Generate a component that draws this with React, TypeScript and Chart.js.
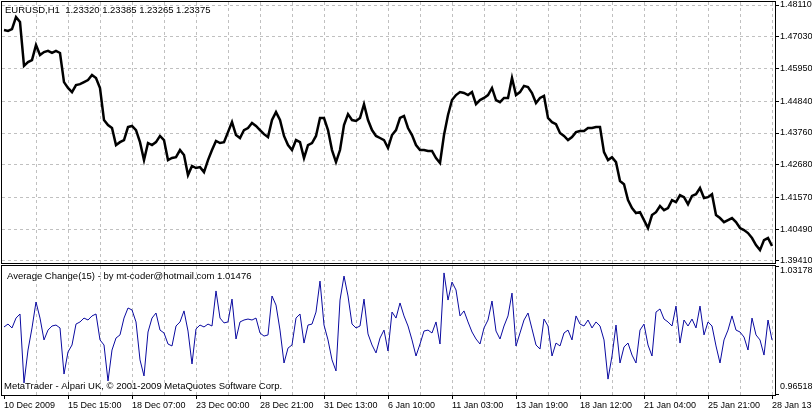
import React, { useEffect, useRef } from 'react';
import { Chart, registerables } from 'chart.js';

Chart.register(...registerables);

// ---- data ----
const timeLabels = [
  '10 Dec 2009', '15 Dec 15:00', '18 Dec 07:00', '23 Dec 00:00', '28 Dec 21:00',
  '31 Dec 13:00', '6 Jan 10:00', '11 Jan 03:00', '13 Jan 19:00', '18 Jan 12:00',
  '21 Jan 04:00', '25 Jan 21:00', '28 Jan 13:00',
];

const priceTicks = [1.4811, 1.4703, 1.4595, 1.4484, 1.4376, 1.4268, 1.4157, 1.4049, 1.3941];

const indicatorMax = 1.03178;
const indicatorMin = 0.96518;

const headerText = 'EURUSD,H1  1.23320 1.23385 1.23265 1.23375';
const indicatorText = 'Average Change(15) - by mt-coder@hotmail.com 1.01476';
const copyrightText = 'MetaTrader - Alpari UK, \u00A9 2001-2009 MetaQuotes Software Corp.';

// EURUSD H1 price, one reading every 4 bars
const eurusdPrice = [
  1.4726, 1.4723, 1.4729, 1.4770, 1.4753, 1.4604, 1.4617, 1.4624, 1.4675, 1.4641, 1.4651, 1.4655, 1.4648, 1.4655, 1.4648, 1.4549,
  1.4529, 1.4515, 1.4539, 1.4542, 1.4549, 1.4556, 1.4573, 1.4563, 1.4529, 1.4420, 1.4403, 1.4393, 1.4335, 1.4345, 1.4352, 1.4396,
  1.4400, 1.4386, 1.4345, 1.4284, 1.4342, 1.4335, 1.4345, 1.4366, 1.4352, 1.4284, 1.4291, 1.4294, 1.4318, 1.4301, 1.4233, 1.4264,
  1.4257, 1.4260, 1.4243, 1.4284, 1.4318, 1.4349, 1.4342, 1.4345, 1.4379, 1.4413, 1.4369, 1.4359, 1.4386, 1.4393, 1.4410, 1.4400,
  1.4386, 1.4372, 1.4362, 1.4420, 1.4447, 1.4420, 1.4366, 1.4335, 1.4318, 1.4352, 1.4345, 1.4291, 1.4335, 1.4342, 1.4366, 1.4427,
  1.4427, 1.4386, 1.4318, 1.4277, 1.4318, 1.4403, 1.4440, 1.4420, 1.4417, 1.4427, 1.4474, 1.4420, 1.4386, 1.4366, 1.4359, 1.4352,
  1.4325, 1.4369, 1.4386, 1.4427, 1.4434, 1.4393, 1.4369, 1.4335, 1.4318, 1.4318, 1.4315, 1.4315, 1.4291, 1.4274, 1.4369, 1.4437,
  1.4488, 1.4505, 1.4515, 1.4512, 1.4505, 1.4515, 1.4474, 1.4488, 1.4495, 1.4505, 1.4529, 1.4488, 1.4481, 1.4495, 1.4495, 1.4563,
  1.4505, 1.4515, 1.4536, 1.4532, 1.4512, 1.4478, 1.4495, 1.4502, 1.4427, 1.4413, 1.4406, 1.4376, 1.4366, 1.4352, 1.4362, 1.4379,
  1.4383, 1.4383, 1.4393, 1.4393, 1.4396, 1.4396, 1.4311, 1.4284, 1.4294, 1.4277, 1.4213, 1.4202, 1.4148, 1.4121, 1.4104, 1.4107,
  1.4080, 1.4053, 1.4097, 1.4107, 1.4128, 1.4114, 1.4121, 1.4148, 1.4141, 1.4165, 1.4158, 1.4134, 1.4162, 1.4168, 1.4189, 1.4155,
  1.4158, 1.4168, 1.4097, 1.4087, 1.4073, 1.4080, 1.4087, 1.4073, 1.4053, 1.4046, 1.4036, 1.4019, 1.3995, 1.3978, 1.4012, 1.4019,
  1.3992,
];

// Average Change(15), one reading every 4 bars
const averageChange = [
  1.0003, 1.0018, 0.9998, 1.0049, 1.0070, 0.9714, 0.9884, 0.9998, 1.0132, 1.0049, 0.9936, 0.9987, 1.0008, 1.0013, 0.9998, 0.9760,
  0.9874, 0.9910, 1.0018, 1.0029, 1.0049, 1.0039, 1.0060, 1.0070, 0.9936, 0.9910, 0.9724, 0.9884, 0.9946, 0.9962, 1.0049, 1.0101,
  1.0091, 1.0029, 0.9833, 0.9750, 0.9977, 1.0049, 1.0075, 0.9987, 0.9972, 0.9915, 0.9905, 1.0008, 1.0029, 1.0086, 0.9982, 0.9812,
  0.9993, 1.0013, 1.0003, 1.0018, 1.0008, 1.0189, 1.0049, 1.0024, 1.0029, 1.0147, 0.9941, 1.0029, 1.0039, 1.0044, 1.0039, 1.0049,
  0.9972, 0.9956, 0.9962, 1.0163, 1.0116, 0.9987, 0.9817, 0.9894, 0.9910, 1.0049, 1.0070, 0.9920, 1.0013, 1.0018, 1.0080, 1.0240,
  1.0013, 0.9936, 0.9833, 0.9776, 1.0142, 1.0266, 1.0163, 1.0018, 0.9998, 1.0008, 1.0147, 0.9967, 0.9910, 0.9869, 0.9946, 0.9987,
  0.9879, 1.0080, 1.0049, 1.0127, 1.0060, 1.0008, 0.9936, 0.9853, 0.9915, 0.9982, 0.9987, 0.9972, 1.0029, 0.9915, 1.0282, 1.0142,
  1.0235, 1.0194, 1.0060, 1.0086, 1.0029, 0.9977, 0.9941, 0.9915, 0.9998, 1.0039, 1.0137, 0.9982, 0.9941, 1.0008, 1.0060, 1.0178,
  0.9905, 0.9972, 1.0039, 1.0075, 0.9993, 0.9910, 0.9889, 1.0044, 1.0008, 0.9853, 0.9920, 0.9905, 0.9972, 0.9987, 0.9936, 1.0060,
  1.0018, 1.0008, 1.0039, 0.9998, 1.0029, 1.0008, 0.9936, 0.9734, 0.9853, 1.0013, 0.9817, 0.9900, 0.9920, 0.9858, 0.9817, 0.9987,
  1.0018, 0.9910, 0.9853, 1.0080, 1.0096, 1.0044, 1.0029, 1.0008, 1.0111, 0.9920, 1.0039, 1.0008, 1.0044, 0.9998, 1.0111, 0.9962,
  1.0029, 1.0008, 0.9905, 0.9817, 0.9936, 0.9987, 1.0060, 0.9987, 0.9977, 0.9951, 0.9884, 1.0049, 0.9962, 0.9936, 0.9858, 1.0039,
  0.9936,
];

const BARS_PER_SAMPLE = 4;
const GRID_STEP = 32;
const LABEL_STEP = 64;

// ---- layout / style ----
const W = 812;
const H = 412;
const FONT = "'Liberation Sans', Arial, sans-serif";
const FONT_SIZE = 9;
const OVERLAY_FONT_SIZE = 9.5;
const GRID_COLOR = '#c0c0c0';
const LINE_BLUE = '#0a0aa0';

// price axis spans whole chart area (main panel occupies the top part)
const PRICE_MAX = 1.48212;
const PRICE_MIN = 1.34856;
// indicator axis spans whole chart area (indicator panel occupies the bottom part)
const IND_MAX = 1.16808;
const IND_MIN = indicatorMin;

const framePlugin = {
  id: 'mtFrame',
  afterDraw(chart: any) {
    const ctx = chart.ctx as CanvasRenderingContext2D;
    const area = chart.chartArea;
    const y2 = chart.scales.y2;
    const indTop = Math.round(y2.getPixelForValue(indicatorMax));
    const mainBottom = indTop - 3;
    ctx.save();
    // gap between panels
    ctx.fillStyle = '#ffffff';
    ctx.fillRect(area.left, mainBottom + 1, area.right - area.left, indTop - mainBottom - 1);
    // frames
    ctx.strokeStyle = '#000000';
    ctx.lineWidth = 1;
    ctx.setLineDash([]);
    ctx.strokeRect(area.left - 0.5, area.top - 0.5, area.right - area.left + 1, mainBottom - area.top + 1);
    ctx.strokeRect(area.left - 0.5, indTop - 0.5, area.right - area.left + 1, area.bottom - indTop + 1);
    // indicator scale ticks
    ctx.beginPath();
    ctx.moveTo(area.right, indTop + 0.5);
    ctx.lineTo(area.right + 4, indTop + 0.5);
    ctx.moveTo(area.right, area.bottom - 0.5);
    ctx.lineTo(area.right + 4, area.bottom - 0.5);
    ctx.stroke();
    // texts
    ctx.fillStyle = '#000000';
    ctx.textAlign = 'left';
    ctx.textBaseline = 'middle';
    ctx.font = `${OVERLAY_FONT_SIZE}px ${FONT}`;
    ctx.fillText(headerText, area.left + 3, area.top + 8);
    ctx.fillText(indicatorText, area.left + 5, indTop + 10);
    ctx.fillText(copyrightText, area.left + 2, area.bottom - 9);
    ctx.font = `${FONT_SIZE}px ${FONT}`;
    ctx.fillText(indicatorMax.toFixed(5), area.right + 5, indTop + 5);
    ctx.fillText(indicatorMin.toFixed(5), area.right + 5, area.bottom - 8);
    ctx.restore();
  },
};

export default function App() {
  const canvasRef = useRef<HTMLCanvasElement | null>(null);

  useEffect(() => {
    const canvas = canvasRef.current;
    if (!canvas) return;
    const lastBar = (eurusdPrice.length - 1) * BARS_PER_SAMPLE;
    const gridValues: number[] = [];
    for (let v = 0; v <= lastBar; v += GRID_STEP) gridValues.push(v);

    const chart = new Chart(canvas, {
      type: 'line',
      data: {
        datasets: [
          {
            label: 'EURUSD,H1',
            data: eurusdPrice.map((v, i) => ({ x: i * BARS_PER_SAMPLE, y: v })),
            yAxisID: 'y',
            borderColor: '#000000',
            borderWidth: 2.5,
            pointRadius: 0,
            tension: 0,
          },
          {
            label: 'Average Change(15)',
            data: averageChange.map((v, i) => ({ x: i * BARS_PER_SAMPLE, y: v })),
            yAxisID: 'y2',
            borderColor: LINE_BLUE,
            borderWidth: 1,
            pointRadius: 0,
            tension: 0,
          },
        ],
      },
      options: {
        animation: false,
        responsive: false,
        maintainAspectRatio: false,
        devicePixelRatio: 1,
        layout: { padding: { left: 2, top: 2, right: 0, bottom: 0 } },
        plugins: {
          legend: { display: false },
          tooltip: { enabled: false },
        },
        scales: {
          x: {
            type: 'linear',
            min: -2,
            max: 771,
            afterBuildTicks: (s: any) => {
              s.ticks = gridValues.map((v) => ({ value: v }));
            },
            afterFit: (s: any) => {
              s.height = 17;
              s.paddingLeft = 0;
              s.paddingRight = 0;
            },
            grid: {
              color: (c: any) => (c.tick && c.tick.value === 0 ? 'rgba(0,0,0,0)' : GRID_COLOR),
              tickColor: (c: any) => (c.tick && c.tick.value % LABEL_STEP === 0 ? '#000000' : 'rgba(0,0,0,0)'),
              tickLength: 4,
              lineWidth: 1,
            },
            border: { display: false, dash: [3, 3] },
            ticks: {
              autoSkip: false,
              maxRotation: 0,
              minRotation: 0,
              align: 'start',
              padding: 1,
              color: '#000000',
              font: { family: FONT, size: FONT_SIZE },
              callback: (v: any) => (Number(v) % LABEL_STEP === 0 ? timeLabels[Number(v) / LABEL_STEP] ?? '' : ''),
            },
          },
          y: {
            type: 'linear',
            position: 'right',
            min: PRICE_MIN,
            max: PRICE_MAX,
            afterBuildTicks: (s: any) => {
              s.ticks = priceTicks.map((v) => ({ value: v }));
            },
            afterFit: (s: any) => {
              s.width = 37;
              s.paddingTop = 0;
              s.paddingBottom = 0;
            },
            grid: {
              color: GRID_COLOR,
              tickColor: '#000000',
              tickLength: 4,
              lineWidth: 1,
            },
            border: { display: false, dash: [3, 3] },
            ticks: {
              autoSkip: false,
              padding: 1,
              color: '#000000',
              font: { family: FONT, size: FONT_SIZE },
              callback: (v: any) => Number(v).toFixed(5),
            },
          },
          y2: {
            type: 'linear',
            display: false,
            min: IND_MIN,
            max: IND_MAX,
          },
        },
      },
      plugins: [framePlugin],
    } as any);

    return () => {
      chart.destroy();
    };
  }, []);

  return (
    <div style={{ position: 'absolute', left: 0, top: 0, width: W, height: H, background: '#ffffff' }}>
      <canvas ref={canvasRef} width={W} height={H} style={{ display: 'block', width: W, height: H }} />
    </div>
  );
}
